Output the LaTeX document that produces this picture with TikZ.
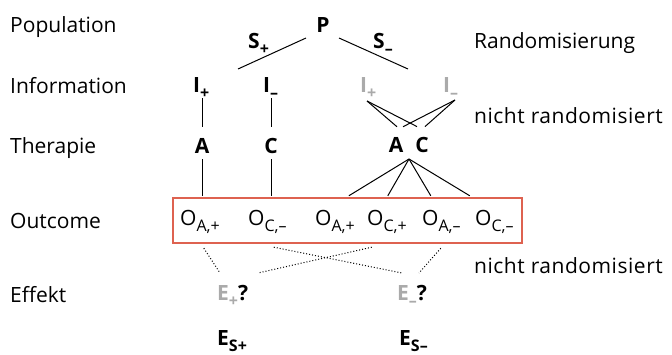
\documentclass[tikz,border=0pt]{standalone}
\usepackage{fontspec}
\setmainfont{Open Sans}
\usetikzlibrary{calc}
\definecolor{lightg}{RGB}{170,170,170}
\definecolor{boxred}{RGB}{222,98,80}
\newcommand{\mysub}[1]{\raisebox{-6pt}{\fontsize{16}{16}\selectfont #1}}
\begin{document}
\begin{tikzpicture}[x=1pt,y=-1pt,
  every node/.style={inner sep=0pt, font=\fontsize{21}{25}\selectfont},
  lbl/.style={anchor=base west},
  wide/.style={anchor=base west, font=\fontsize{21}{25}\selectfont\addfontfeature{LetterSpace=2.5}},
  bnode/.style={anchor=base west, font=\fontsize{21}{25}\selectfont\bfseries},
  cnode/.style={anchor=base, font=\fontsize{21}{25}\selectfont\bfseries},
  conn/.style={line width=1pt, black},
  dconn/.style={line width=1pt, black, dotted}]
\useasboundingbox (0,0) rectangle (672,354);
% left labels
\node[lbl] (lpop) at (10,32) {Population};
\node[lbl] (linf) at (10,93) {Information};
\node[lbl] (lther) at (10,153) {Therapie};
\node[lbl] (lout) at (10,228) {Outcome};
\node[lbl] (leff) at (10,302) {Effekt};
% right labels
\node[lbl] (rrand) at (474,48) {Randomisierung};
\node[wide] (rnr1) at (474,123) {nicht randomisiert};
\node[wide] (rnr2) at (474,273) {nicht randomisiert};
% tree
\node[cnode] (P) at (323,32) {P};
\node[bnode] (Sp) at (248,48) {S\mysub{+}};
\node[bnode] (Sm) at (373,48) {S\mysub{–}};
\coordinate (brL) at (238,69);
\coordinate (brR) at (408,69);
\draw[conn] ($(P.base)+(-17,6)$) -- (brL);
\draw[conn] ($(P.base)+(16,6)$) -- (brR);
\node[bnode] (Ip) at (193,92) {I\mysub{+}};
\node[bnode] (Im) at (263,92) {I\mysub{–}};
\node[bnode, text=lightg] (Ipg) at (360,92) {I\mysub{+}};
\node[bnode, text=lightg] (Img) at (443,92) {I\mysub{–}};
\node[cnode] (A1) at (202,153) {A};
\node[cnode] (C1) at (271,153) {C};
\node[cnode] (A2) at (396,152) {A};
\node[cnode] (C2) at (422,152) {C};
% outcome box
\node[draw=boxred, line width=2.4pt, minimum width=349pt, minimum height=45pt] (box) at (347.5,220.5) {};
\node[lbl] (O1) at (180,225) {O\mysub{A,+}};
\node[lbl] (O2) at (248,225) {O\mysub{C,–}};
\node[lbl] (O3) at (315,225) {O\mysub{A,+}};
\node[lbl] (O4) at (367,225) {O\mysub{C,+}};
\node[lbl] (O5) at (422,225) {O\mysub{A,–}};
\node[lbl] (O6) at (475,225) {O\mysub{C,–}};
% verticals
\draw[conn] ($(A1.north |- Ip.base)+(0,6)$) -- ($(A1.north)+(0,-11)$);
\draw[conn] ($(C1.north |- Im.base)+(0,6)$) -- ($(C1.north)+(0,-11)$);
\draw[conn] ($(A1.south)+(0,6)$) -- ($(A1.south |- box.north)+(0,-1)$);
\draw[conn] ($(C1.south)+(0,6)$) -- ($(C1.south |- box.north)+(0,-1)$);
% crossing lines
\draw[conn] ($(Ipg.base west)+(7,9)$) -- ($(A2.north)+(1,-10)$);
\draw[conn] ($(Ipg.base west)+(7,9)$) -- ($(C2.north)+(-5,-10)$);
\draw[conn] ($(Img.base west)+(12,8)$) -- ($(A2.north)+(7,-10)$);
\draw[conn] ($(Img.base west)+(12,8)$) -- ($(C2.north)+(3,-10)$);
% fan to box
\coordinate (apex) at ($(A2.base)!0.5!(C2.base)+(0,7)$);
\draw[conn] (apex) -- ($(box.north west)+(177,-1)$);
\draw[conn] (apex) -- ($(box.north west)+(216,-1)$);
\draw[conn] (apex) -- ($(box.north west)+(259,-1)$);
\draw[conn] (apex) -- ($(box.north west)+(298,-1)$);
% effects
\node[bnode] (Ep) at (217,300) {\textcolor{lightg}{E\mysub{+}}?};
\node[bnode] (Em) at (397,300) {\textcolor{lightg}{E\mysub{–}}?};
\node[bnode] (ESp) at (217,345) {E\mysub{S+}};
\node[bnode] (ESm) at (399,345) {E\mysub{S–}};
% dotted
\draw[dconn] ($(box.south west)+(32,4)$) -- ($(Ep.base west)+(3,-27)$);
\draw[dconn] ($(box.south west)+(102,3)$) -- ($(Em.base west)+(5,-27)$);
\draw[dconn] ($(box.south west)+(200,3)$) -- ($(Ep.base west)+(41,-27)$);
\draw[dconn] ($(box.south west)+(269,4)$) -- ($(Em.base west)+(22,-27)$);
\end{tikzpicture}
\end{document}
